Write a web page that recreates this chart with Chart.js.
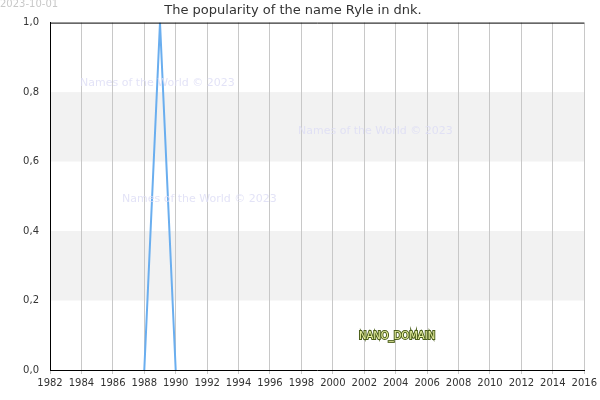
<!DOCTYPE html>
<html><head><script src="https://cdn.jsdelivr.net/npm/chart.js@4"></script>
<style>body{margin:0;background:#fff}#w{width:600px;height:400px}</style></head>
<body><div id="w"><canvas id="c"></canvas></div>
<script>
const years=[1988,1989,1990];
const values=[0,1,0];
const yTicks=[0,0.2,0.4,0.6,0.8,1.0];
const F='"DejaVu Sans", sans-serif';
const deco={id:'deco',
beforeDraw(ch){const {ctx,chartArea:a,scales:{y}}=ch;ctx.save();ctx.fillStyle='#f2f2f2';
[[0.2,0.4],[0.6,0.8]].forEach(([l,h])=>ctx.fillRect(a.left,y.getPixelForValue(h),a.right-a.left,y.getPixelForValue(l)-y.getPixelForValue(h)));
ctx.restore();},
afterDraw(ch){const {ctx,chartArea:a}=ch;ctx.save();
ctx.strokeStyle='#000';ctx.lineWidth=1;ctx.beginPath();ctx.moveTo(a.left+0.5,a.bottom);ctx.lineTo(a.left+0.5,a.top+0.5);ctx.lineTo(a.right,a.top+0.5);ctx.stroke();
ctx.font='10px '+F;ctx.fillStyle='#c8c8c8';ctx.textBaseline='top';ctx.fillText('2023-10-01',0,-1);
ctx.font='11px '+F;ctx.fillStyle='rgba(220,220,245,0.8)';ctx.textBaseline='middle';
[['Names of the World © 2023',80,83],['Names of the World © 2023',298,131],['Names of the World © 2023',122,199]].forEach(t=>ctx.fillText(t[0],t[1],t[2]));
ctx.font='10px '+F;ctx.lineWidth=2;ctx.strokeStyle='#4a5e1a';ctx.strokeText('NANO_DOMAIN',359,336);ctx.fillStyle='#e8f0a0';ctx.fillText('NANO_DOMAIN',359,336);
ctx.restore();}};
new Chart(document.getElementById('c'),{type:'line',
data:{datasets:[{data:years.map((x,i)=>({x,y:values[i]})),borderColor:'#6aaeef',borderWidth:2,pointRadius:0,tension:0}]},
options:{responsive:true,maintainAspectRatio:false,animation:false,
layout:{padding:{left:0,right:14,top:0,bottom:8}},
plugins:{legend:{display:false},tooltip:{enabled:false},
title:{display:true,text:'The popularity of the name Ryle in dnk.',font:{family:F,size:13,weight:'normal'},color:'#333',padding:{top:3,bottom:4}}},
scales:{x:{type:'linear',min:1982,max:2016,grid:{color:'#c8c8c8',drawTicks:true,tickLength:4},border:{color:'#000'},
ticks:{stepSize:2,autoSkip:false,maxRotation:0,font:{family:F,size:10},color:'#333',callback:v=>String(v)}},
y:{min:0,max:1,afterFit(s){s.width=50},grid:{display:false},border:{color:'#000'},
afterBuildTicks(s){s.ticks=yTicks.map(v=>({value:v}))},
ticks:{font:{family:F,size:10},color:'#333',callback:v=>v.toFixed(1).replace('.',',')}}}},
plugins:[deco]});
</script></body></html>
